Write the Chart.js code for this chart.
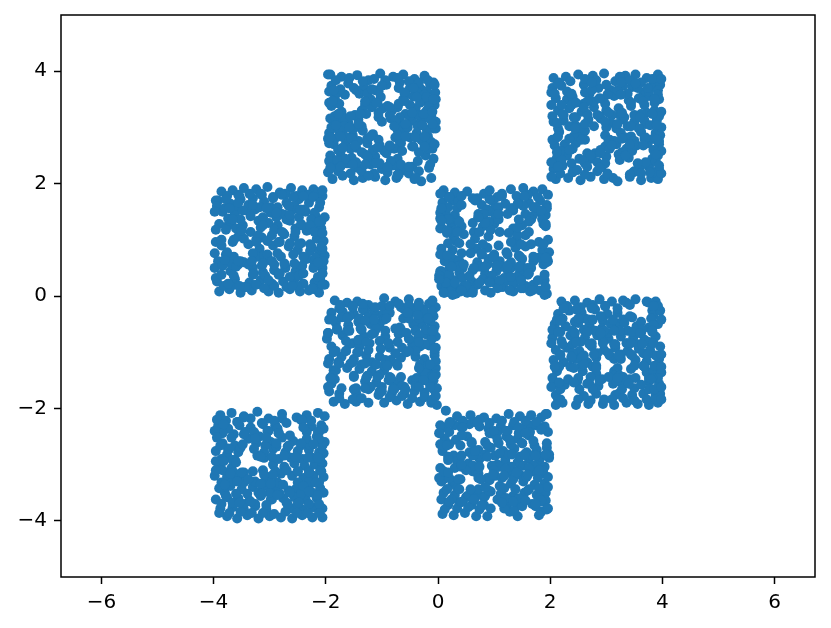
<!DOCTYPE html>
<html>
<head>
<meta charset="utf-8">
<script src="https://cdn.jsdelivr.net/npm/chart.js@4"></script>
<style>
  html, body { margin: 0; padding: 0; background: #fff; }
  canvas { display: block; }
</style>
</head>
<body>
<canvas id="checkerChart" width="831" height="628"></canvas>
<script>
// points, one pair of lists per square
const squareAX = [
  -1.92,-1.72,-1.44,-1.24,-1.03,-0.80,-0.62,-0.42,-0.24,-0.08,
  -1.90,-1.60,-1.32,-1.12,-0.92,-0.68,-0.50,-0.30,-0.14,-0.05,
  -1.84,-1.66,-1.40,-1.20,-1.02,-0.62,-0.44,-0.26,-0.10,-0.72,
  -1.90,-1.72,-1.36,-1.18,-0.98,-0.82,-0.58,-0.40,-0.20,-0.06,
  -1.78,-1.60,-1.42,-1.06,-0.84,-0.66,-0.46,-0.30,-0.12,-1.92,
  -1.94,-1.70,-1.52,-1.34,-1.16,-0.76,-0.60,-0.38,-0.18,-0.08,
  -1.86,-1.64,-1.46,-1.26,-1.04,-0.88,-0.66,-0.44,-0.26,-0.10,
  -1.92,-1.74,-1.54,-1.30,-1.12,-0.92,-0.72,-0.70,-0.22,-0.08,
  -1.84,-1.62,-1.44,-1.20,-1.00,-0.82,-0.62,-0.46,-0.34,-0.16,
  -1.88,-1.70,-1.50,-1.34,-1.12,-0.94,-0.74,-0.42,-0.30,-0.12,
  -1.82,-1.58,-1.34,-1.14,-0.94,-0.72,-0.52,-0.34,-0.18,-1.96,
  -1.78,-1.46,-1.26,-1.06,-0.58,-0.38,-0.20,-0.06,-1.94,-0.70,
  -1.94,-1.76,-1.30,-1.08,-0.90,-0.70,-0.50,-0.32,-0.16,-0.04,
  -1.84,-1.66,-1.48,-1.28,-0.86,-0.68,-0.50,-0.34,-0.16,-0.04,
  -1.90,-1.68,-1.50,-1.36,-0.72,-0.54,-0.36,-0.20,-0.04,-1.78,
  -1.84,-1.62,-1.42,-1.26,-1.06,-0.68,-0.50,-0.30,-0.12,-1.96,
  -1.78,-1.56,-1.36,-1.16,-0.96,-0.78,-0.64,-0.34,-0.16,-1.94,
  -1.94,-1.66,-1.46,-1.24,-1.04,-0.84,-0.66,-0.36,-1.80,-0.14,
  -1.96,-1.78,-1.56,-1.36,-1.14,-0.90,-0.70,-0.52,-0.40,-1.24,
  -1.74,-1.50,-1.18,-1.00,-0.44,-0.24,-0.60,-1.86,
  -1.88,-1.30,-1.10,-0.86,-0.60,-0.38,-0.20,-0.08,
  -1.78,-1.56,-1.38,-1.06,-0.76,-0.46,-0.26,-0.10,
  -1.82,-1.58,-1.42,-1.00,-0.78,-0.58,-0.28,-0.10,
  -1.92,-1.74,-1.54,-1.20,-0.72,-0.58,-0.40,-0.24,
  -1.70,-1.48,-1.08,-0.86,-0.46,-0.24,-0.06,-1.26,
  -1.74,-1.52,-1.30,-1.10,-0.90,-0.72,-0.52,-1.92
];
const squareAY = [
  3.94,3.90,3.93,3.84,3.96,3.90,3.94,3.86,3.92,3.80,
  3.74,3.78,3.72,3.66,3.76,3.80,3.70,3.68,3.76,3.62,
  3.52,3.58,3.60,3.50,3.54,3.50,3.55,3.48,3.44,3.36,
  3.38,3.28,3.30,3.36,3.34,3.30,3.24,3.34,3.30,3.40,
  3.12,3.08,3.14,3.18,3.16,3.06,3.12,3.10,3.20,3.16,
  2.90,2.92,2.86,2.94,2.88,2.82,2.92,2.90,2.84,2.98,
  2.70,2.74,2.64,2.72,2.68,2.62,2.72,2.66,2.74,2.62,
  2.50,2.56,2.46,2.52,2.48,2.54,2.44,2.30,2.50,2.44,
  2.30,2.36,2.28,2.34,2.26,2.32,2.24,2.30,2.22,2.28,
  2.08,2.14,2.06,2.10,2.12,2.06,2.10,2.08,2.04,2.10,
  3.84,3.88,3.82,3.86,3.84,3.88,3.82,3.80,3.84,3.94,
  3.62,3.66,3.60,3.64,3.58,3.62,3.64,3.76,3.64,3.70,
  3.44,3.42,3.40,3.44,3.38,3.42,3.40,3.44,3.38,3.50,
  3.20,3.16,3.22,3.24,3.22,3.18,3.20,3.22,3.16,3.10,
  3.00,3.02,2.98,3.02,2.96,3.00,3.02,2.96,2.98,2.96,
  2.80,2.82,2.76,2.80,2.78,2.74,2.82,2.78,2.74,2.80,
  2.60,2.62,2.56,2.60,2.58,2.62,2.58,2.56,2.62,2.72,
  2.40,2.44,2.38,2.42,2.36,2.40,2.34,2.40,2.42,2.34,
  2.20,2.22,2.18,2.22,2.18,2.20,2.16,2.18,2.10,2.14,
  3.68,3.70,3.68,3.74,3.70,3.58,3.62,3.66,
  3.47,3.46,3.44,3.36,3.47,3.54,3.54,3.50,
  3.24,3.20,3.24,3.26,3.12,3.26,3.24,3.28,
  3.04,3.00,3.06,3.10,3.02,3.06,3.04,3.06,
  2.82,2.84,2.80,2.84,2.86,2.84,2.82,2.84,
  2.64,2.68,2.64,2.68,2.66,2.66,2.70,2.48,
  2.30,2.34,2.34,2.36,2.30,2.16,2.30,2.28
];
const squareBX = [
  2.06,2.28,2.50,2.76,2.96,3.16,3.34,3.52,3.72,3.92,
  2.04,2.20,2.60,2.86,3.08,3.30,3.46,3.66,3.84,3.96,
  2.10,2.30,2.40,2.70,2.94,3.14,3.40,3.58,3.76,3.94,
  2.14,2.34,2.56,2.78,3.00,3.22,3.72,3.86,3.98,3.50,
  2.06,2.24,2.44,2.68,2.90,3.08,3.30,3.50,3.70,3.90,
  2.16,2.52,2.62,2.98,3.06,3.26,3.44,3.62,3.88,3.96,
  2.08,2.26,2.46,2.66,2.98,3.18,3.36,3.54,3.74,3.94,
  2.12,2.30,2.52,2.80,3.00,3.22,3.40,3.76,3.82,3.92,
  2.06,2.22,2.42,2.62,2.92,3.12,3.50,3.60,3.76,3.94,
  2.10,2.32,2.54,2.72,2.96,3.20,3.42,3.62,3.80,3.92,
  2.16,2.36,2.62,2.82,3.06,3.24,3.42,3.62,3.82,3.98,
  2.02,2.30,2.62,2.74,3.02,3.20,3.38,3.56,3.76,3.92,
  2.20,2.38,2.60,2.78,2.98,3.24,3.44,3.68,3.86,2.02,
  2.04,2.24,2.46,2.66,2.88,3.10,3.32,3.52,3.68,3.94,
  2.14,2.34,2.54,2.78,3.00,3.18,3.38,3.58,3.78,3.98,
  2.04,2.12,2.42,2.62,3.14,3.34,3.50,3.68,3.84,3.94,
  2.18,2.36,2.40,2.72,2.90,3.06,3.28,3.46,3.84,3.98,
  2.02,2.20,2.38,2.60,2.84,2.98,3.24,3.48,3.70,3.88,
  2.18,2.40,2.62,2.84,3.02,3.42,3.62,3.84,2.02,3.98,
  2.14,2.38,2.74,3.00,3.26,3.52,3.74,3.92,
  2.08,2.46,2.66,2.88,3.26,3.44,3.66,3.86,
  2.22,2.42,2.60,2.84,3.04,3.28,3.62,3.82,
  2.12,2.44,2.62,2.98,3.20,3.44,3.60,3.90,
  2.14,2.34,2.56,3.04,3.28,3.48,3.70,3.90,
  2.12,2.34,2.72,2.90,3.10,3.42,3.66,3.88,
  2.14,2.48,2.66,2.88,3.34,3.56,3.78,3.94
];
const squareBY = [
  3.88,3.90,3.94,3.92,3.96,3.82,3.92,3.94,3.88,3.94,
  3.70,3.74,3.76,3.70,3.66,3.74,3.72,3.62,3.76,3.76,
  3.52,3.50,3.54,3.60,3.50,3.56,3.48,3.52,3.56,3.50,
  3.30,3.34,3.28,3.36,3.30,3.34,3.26,3.30,3.28,3.22,
  3.10,3.12,3.04,3.14,3.16,3.08,3.14,3.10,3.06,3.12,
  2.92,2.88,2.94,2.86,2.78,2.90,2.84,2.92,2.90,2.86,
  2.68,2.70,2.72,2.54,2.66,2.70,2.62,2.68,2.72,2.70,
  2.46,2.50,2.44,2.54,2.48,2.52,2.46,2.30,2.44,2.50,
  2.26,2.32,2.24,2.36,2.30,2.10,2.22,2.28,2.32,2.26,
  2.08,2.10,2.06,2.12,2.08,2.04,2.12,2.06,2.10,2.08,
  3.80,3.82,3.86,3.84,3.66,3.90,3.84,3.80,3.86,3.86,
  3.62,3.64,3.62,3.66,3.58,3.66,3.60,3.70,3.64,3.66,
  3.40,3.40,3.42,3.46,3.42,3.22,3.38,3.40,3.44,3.40,
  3.20,3.22,3.18,3.24,3.20,3.22,3.18,3.20,3.12,3.20,
  2.98,3.02,3.00,3.02,3.00,2.98,3.02,2.98,3.04,3.00,
  2.78,2.82,2.84,2.78,2.76,2.82,2.76,2.80,2.80,2.76,
  2.58,2.60,2.62,2.44,2.60,2.62,2.56,2.58,2.60,2.58,
  2.38,2.42,2.36,2.40,2.38,2.36,2.42,2.20,2.38,2.40,
  2.18,2.20,2.16,2.22,2.18,2.16,2.18,2.20,2.12,2.18,
  3.78,3.60,3.80,3.76,3.80,3.78,3.70,3.58,
  3.60,3.44,3.46,3.52,3.58,3.44,3.46,3.50,
  3.24,3.18,3.36,3.22,3.26,3.26,3.24,3.24,
  3.08,2.98,3.06,3.10,3.06,3.02,3.18,3.04,
  2.84,2.80,2.78,2.76,2.80,2.70,2.82,2.78,
  2.56,2.60,2.50,2.54,2.68,2.70,2.68,2.52,
  2.30,2.24,2.30,2.28,2.50,2.36,2.20,2.32
];
const squareCX = [
  -3.86,-3.66,-3.46,-3.24,-3.04,-2.82,-2.62,-2.42,-2.22,-2.06,
  -3.92,-3.70,-3.52,-3.30,-3.10,-2.72,-2.70,-2.48,-2.30,-2.12,
  -3.84,-3.62,-3.42,-3.26,-2.98,-2.78,-2.58,-2.36,-2.18,-2.02,
  -3.90,-3.68,-3.48,-3.20,-3.02,-2.86,-2.64,-2.44,-2.24,-2.08,
  -3.96,-3.74,-3.56,-3.34,-3.14,-2.74,-2.56,-2.22,-2.16,-2.04,
  -3.86,-3.64,-3.38,-3.18,-2.94,-2.66,-2.50,-2.28,-2.12,-2.02,
  -3.92,-3.66,-3.46,-3.22,-3.02,-2.80,-2.50,-2.34,-2.20,-2.06,
  -3.98,-3.70,-3.68,-3.30,-3.12,-2.92,-2.72,-2.54,-2.20,-2.10,
  -3.94,-3.62,-3.36,-3.16,-2.96,-2.76,-2.56,-2.40,-2.14,-2.20,
  -3.90,-3.72,-3.52,-3.32,-3.02,-2.84,-2.64,-2.46,-2.30,-2.12,
  -3.76,-3.56,-3.36,-3.14,-2.94,-2.72,-2.52,-2.32,-2.14,-3.96,
  -3.94,-3.80,-3.58,-3.38,-3.18,-2.98,-2.78,-2.56,-2.38,-2.20,
  -3.74,-3.52,-3.34,-3.12,-2.88,-2.70,-2.48,-2.26,-2.08,-3.98,
  -3.78,-3.60,-3.16,-2.92,-2.76,-2.54,-2.34,-2.14,-3.96,-3.48,
  -3.86,-3.66,-3.46,-3.24,-3.04,-2.84,-2.64,-2.44,-2.26,-2.06,
  -3.78,-3.56,-3.30,-3.10,-2.86,-2.58,-2.40,-2.18,-2.04,-3.98,
  -3.84,-3.60,-3.38,-3.14,-2.92,-2.72,-2.42,-2.22,-2.06,-3.96,
  -3.86,-3.64,-3.28,-3.08,-2.84,-2.64,-2.48,-2.14,-2.02,-3.42,
  -3.82,-3.62,-3.44,-3.24,-3.10,-2.92,-2.70,-2.52,-2.24,-2.06,
  -3.78,-3.54,-3.16,-2.94,-2.58,-2.40,-2.22,-2.06,
  -3.72,-3.56,-3.30,-3.06,-2.86,-2.66,-2.46,-2.10,
  -3.66,-3.50,-3.12,-2.88,-2.64,-2.44,-2.12,-2.28,
  -3.64,-3.50,-3.20,-2.96,-2.78,-2.54,-2.20,-2.06,
  -3.76,-3.52,-3.24,-3.04,-2.82,-2.48,-2.28,-2.08,
  -3.80,-3.56,-3.32,-3.12,-2.96,-2.74,-2.56,-2.14,
  -3.74,-3.54,-3.30,-3.02,-2.82,-2.60,-2.40,-2.06
];
const squareCY = [
  1.86,1.88,1.92,1.90,1.94,1.84,1.92,1.88,1.90,1.78,
  1.70,1.64,1.72,1.74,1.68,1.44,1.66,1.72,1.66,1.58,
  1.50,1.46,1.52,1.54,1.48,1.46,1.54,1.50,1.42,1.40,
  1.28,1.32,1.26,1.34,1.30,1.26,1.34,1.28,1.22,1.20,
  0.96,1.26,1.06,1.14,1.04,1.10,1.06,1.30,1.02,0.98,
  0.90,0.70,0.92,0.84,0.90,0.88,0.82,0.80,0.80,0.72,
  0.62,0.68,0.60,0.70,0.64,0.70,0.50,0.66,0.60,0.50,
  0.50,0.44,0.56,0.50,0.42,0.46,0.50,0.44,0.24,0.30,
  0.26,0.30,0.24,0.28,0.22,0.26,0.30,0.22,0.28,0.12,
  0.08,0.12,0.06,0.10,0.08,0.06,0.12,0.08,0.10,0.06,
  1.78,1.80,1.82,1.80,1.76,1.82,1.78,1.80,1.84,1.70,
  1.60,1.56,1.60,1.62,1.58,1.58,1.80,1.60,1.54,1.48,
  1.38,1.36,1.42,1.40,1.40,1.36,1.40,1.36,1.32,1.50,
  1.18,1.20,1.22,1.18,1.12,1.20,1.16,1.10,1.18,1.52,
  1.00,0.96,1.02,1.00,0.98,0.96,0.94,0.94,0.88,0.84,
  0.74,0.56,0.76,0.72,0.76,0.74,0.70,0.68,0.62,0.76,
  0.54,0.52,0.56,0.54,0.56,0.52,0.54,0.50,0.40,0.32,
  0.38,0.36,0.40,0.36,0.38,0.34,0.36,0.34,0.20,0.16,
  0.18,0.20,0.16,0.20,0.14,0.18,0.16,0.18,0.14,0.20,
  1.72,1.78,1.82,1.74,1.76,1.78,1.76,1.88,
  1.56,1.66,1.62,1.56,1.58,1.60,1.54,1.66,
  1.36,1.22,1.26,1.48,1.44,1.26,1.32,1.26,
  1.00,1.16,1.08,1.08,1.14,1.14,1.14,1.12,
  0.78,0.62,0.96,0.74,0.96,0.92,0.92,0.88,
  0.64,0.62,0.62,0.58,0.62,0.58,0.58,0.60,
  0.22,0.18,0.38,0.28,0.40,0.18,0.40,0.40
];
const squareDX = [
  0.10,0.30,0.52,0.82,1.06,1.30,1.52,1.70,1.86,0.70,
  0.08,0.26,0.36,0.78,0.98,1.20,1.44,1.62,1.82,1.94,
  0.14,0.30,0.72,0.92,1.00,1.34,1.56,1.78,1.92,0.62,
  0.06,0.24,0.42,0.80,1.00,1.34,1.50,1.86,1.88,0.64,
  0.30,0.28,0.46,0.66,0.90,1.40,1.56,1.80,1.96,1.08,
  0.06,0.26,0.32,0.68,0.88,1.00,1.38,1.86,1.98,1.56,
  0.12,0.30,0.70,0.90,1.10,1.30,1.50,1.70,1.88,0.44,
  0.06,0.20,0.38,0.62,0.84,1.04,1.24,1.46,1.60,1.90,
  0.08,0.18,0.30,0.44,0.60,0.80,1.00,1.20,1.44,1.70,
  0.06,0.14,0.24,0.34,0.46,0.56,0.70,1.16,1.52,1.82,
  0.12,0.22,0.32,0.40,0.52,0.62,0.94,1.34,1.64,1.94,
  0.18,0.42,0.62,0.92,1.14,1.40,1.60,1.78,1.96,0.04,
  0.18,0.34,0.66,0.88,1.08,1.30,1.52,1.70,1.94,0.04,
  0.04,0.22,0.36,0.76,1.02,1.24,1.44,1.68,1.86,0.82,
  0.16,0.34,0.74,0.94,1.26,1.42,1.62,1.92,0.04,1.10,
  0.04,0.22,0.38,0.58,0.78,1.00,1.24,1.44,1.80,1.94,
  0.20,0.38,0.70,0.88,1.14,1.30,1.48,1.66,1.96,0.04,
  0.02,0.20,0.34,0.56,0.76,0.96,1.18,1.40,1.60,1.94,
  0.14,0.30,0.50,0.72,0.92,1.12,1.34,1.56,1.86,0.02,
  0.10,0.26,0.42,0.62,0.84,1.06,1.28,1.48,1.68,1.90,
  0.20,0.42,0.92,1.14,1.34,1.54,1.74,0.06,
  0.18,0.72,0.90,1.08,1.42,1.66,1.84,0.06,
  0.16,0.38,0.84,1.08,1.42,1.62,1.92,0.72,
  0.18,0.38,0.58,0.80,1.30,1.48,1.66,1.92,
  0.16,0.42,0.78,0.98,1.22,1.46,1.70,1.88,
  0.24,0.46,0.64,0.84,1.04,1.24,1.44,1.90,
  0.74,0.92,1.10,1.30,1.48,1.62,1.78,1.92
];
const squareDY = [
  1.88,1.84,1.86,1.82,1.76,1.90,1.92,1.86,1.90,1.74,
  1.66,1.70,1.68,1.62,1.68,1.64,1.72,1.66,1.70,1.62,
  1.48,1.44,1.46,1.50,1.54,1.52,1.46,1.50,1.44,1.30,
  1.22,1.26,1.24,1.24,1.28,1.20,1.26,1.38,1.28,1.14,
  1.16,1.06,1.10,1.02,1.06,1.02,1.08,0.96,1.00,0.90,
  0.84,0.82,0.98,0.84,0.86,0.72,0.86,0.82,0.78,0.88,
  0.62,0.64,0.60,0.66,0.62,0.60,0.66,0.62,0.56,0.50,
  0.44,0.48,0.42,0.46,0.40,0.44,0.46,0.42,0.38,0.28,
  0.30,0.34,0.28,0.32,0.26,0.30,0.24,0.26,0.30,0.20,
  0.18,0.14,0.20,0.12,0.18,0.14,0.20,0.16,0.14,0.10,
  0.06,0.08,0.04,0.08,0.06,0.10,0.06,0.08,0.08,0.04,
  1.76,1.78,1.74,1.72,1.82,1.78,1.80,1.76,1.80,1.82,
  1.58,1.56,1.70,1.54,1.58,1.56,1.60,1.58,1.56,1.48,
  1.38,1.36,1.34,1.40,1.38,1.46,1.36,1.42,1.36,1.46,
  1.12,1.14,1.14,1.18,1.12,1.08,1.14,1.24,1.20,1.14,
  0.74,0.72,0.62,0.76,0.74,0.74,0.74,0.72,0.68,0.68,
  0.58,0.54,0.52,0.56,0.52,0.50,0.54,0.50,0.62,0.44,
  0.36,0.38,0.52,0.36,0.52,0.36,0.32,0.34,0.50,0.60,
  0.24,0.24,0.18,0.22,0.26,0.16,0.22,0.18,0.28,0.30,
  0.06,0.02,0.10,0.06,0.10,0.14,0.10,0.14,0.10,0.02,
  1.76,1.62,1.88,1.78,1.56,1.78,1.58,1.56,
  1.36,1.40,1.32,1.36,1.64,1.36,1.52,1.34,
  1.16,1.32,1.30,1.46,1.22,1.32,1.28,1.40,
  0.94,0.94,0.92,0.92,0.96,0.92,0.92,0.68,
  0.72,0.76,0.76,0.68,0.78,0.70,0.70,0.92,
  0.52,0.56,0.50,0.52,0.54,0.54,0.52,0.38,
  0.24,0.24,0.28,0.34,0.28,0.40,0.28,0.16
];
const squareEX = [
  -1.84,-1.62,-1.44,-1.24,-0.96,-0.76,-0.52,-0.34,-0.16,-0.04,
  -1.90,-1.70,-1.50,-1.30,-1.00,-0.86,-0.60,-0.42,-0.24,-0.08,
  -1.82,-1.60,-1.42,-1.20,-1.04,-0.90,-0.62,-0.30,-0.14,-0.06,
  -1.96,-1.70,-1.52,-1.32,-1.14,-0.94,-0.70,-0.44,-0.22,-0.10,
  -1.90,-1.58,-1.40,-1.22,-0.86,-0.64,-0.46,-0.32,-0.16,-0.04,
  -1.94,-1.72,-1.50,-1.28,-1.04,-0.84,-0.66,-0.40,-0.24,-0.06,
  -1.86,-1.62,-1.40,-1.18,-0.96,-0.80,-0.38,-0.30,-0.14,-0.04,
  -1.90,-1.82,-1.30,-1.10,-0.88,-0.70,-0.46,-0.28,-0.18,-0.08,
  -1.94,-1.76,-1.46,-1.24,-1.04,-0.82,-0.60,-0.42,-0.24,-0.06,
  -1.86,-1.66,-1.46,-1.24,-0.96,-0.74,-0.54,-0.32,-0.12,-0.02,
  -1.76,-1.52,-1.34,-1.14,-1.00,-0.86,-0.66,-0.44,-0.26,-0.10,
  -1.94,-1.72,-1.58,-1.40,-1.24,-0.96,-0.68,-0.52,-0.34,-0.18,
  -1.80,-1.62,-1.36,-1.10,-0.94,-0.66,-0.40,-0.22,-0.08,-0.04,
  -1.98,-1.64,-1.42,-1.28,-1.04,-0.88,-0.52,-0.36,-0.12,-1.96,
  -1.82,-1.64,-1.44,-1.02,-0.94,-0.76,-0.56,-0.40,-0.06,-0.24,
  -1.96,-1.78,-1.56,-1.36,-1.18,-0.96,-0.74,-0.32,-0.18,-0.04,
  -1.88,-1.50,-1.26,-1.04,-0.86,-0.66,-0.22,-0.10,-0.04,-0.38,
  -1.96,-1.84,-1.46,-1.20,-1.00,-0.80,-0.60,-0.40,-0.12,-0.02,
  -1.76,-1.52,-1.36,-1.06,-0.86,-0.64,-0.46,-0.24,-0.10,-0.04,
  -1.74,-1.52,-1.34,-1.12,-0.70,-0.52,-0.34,-0.10,
  -1.88,-1.62,-1.30,-1.14,-0.92,-0.54,-0.36,-0.18,
  -1.80,-1.58,-1.38,-1.18,-0.76,-0.56,-0.34,-0.10,
  -1.86,-1.64,-1.42,-1.24,-0.72,-0.52,-0.34,-0.06,
  -1.76,-1.52,-1.30,-1.10,-0.90,-0.72,-0.34,-0.14,
  -1.92,-1.50,-1.28,-1.08,-0.84,-0.64,-0.26,-0.08,
  -1.72,-1.50,-1.30,-1.00,-0.78,-0.58,-0.34,-0.14
];
const squareEY = [
  -0.08,-0.12,-0.10,-0.16,-0.04,-0.10,-0.06,-0.12,-0.14,-0.20,
  -0.30,-0.28,-0.32,-0.26,-0.34,-0.30,-0.24,-0.28,-0.30,-0.36,
  -0.48,-0.52,-0.46,-0.50,-0.50,-0.30,-0.40,-0.50,-0.46,-0.54,
  -0.66,-0.70,-0.84,-0.72,-0.66,-0.72,-0.68,-0.50,-0.68,-0.70,
  -0.90,-0.86,-0.90,-0.84,-0.92,-0.92,-0.86,-0.90,-0.88,-0.92,
  -1.12,-1.08,-1.12,-1.06,-1.08,-1.14,-1.10,-1.08,-1.12,-1.06,
  -1.32,-1.28,-1.30,-1.34,-1.32,-1.52,-1.46,-1.32,-1.30,-1.28,
  -1.56,-1.32,-1.52,-1.54,-1.50,-1.54,-1.50,-1.46,-1.52,-1.50,
  -1.70,-1.74,-1.72,-1.66,-1.70,-1.72,-1.74,-1.70,-1.72,-1.68,
  -1.88,-1.92,-1.88,-1.90,-1.90,-1.86,-1.92,-1.88,-1.90,-1.94,
  -0.22,-0.20,-0.24,-0.28,-0.18,-0.18,-0.20,-0.22,-0.24,-0.28,
  -0.42,-0.38,-0.36,-0.40,-0.38,-0.42,-0.56,-0.40,-0.40,-0.42,
  -0.58,-0.62,-0.60,-0.58,-0.62,-0.60,-0.62,-0.60,-0.62,-0.72,
  -0.76,-0.80,-0.78,-0.82,-0.80,-0.84,-0.76,-0.76,-0.78,-0.66,
  -0.98,-0.98,-1.00,-0.94,-1.14,-1.02,-1.00,-0.98,-1.00,-0.86,
  -1.20,-1.18,-1.20,-1.22,-1.18,-1.24,-1.20,-1.22,-1.24,-1.16,
  -1.42,-1.42,-1.42,-1.40,-1.44,-1.44,-1.38,-1.42,-1.40,-1.50,
  -1.62,-1.48,-1.64,-1.62,-1.62,-1.64,-1.62,-1.60,-1.62,-1.64,
  -1.82,-1.84,-1.82,-1.76,-1.80,-1.78,-1.82,-1.80,-1.84,-1.78,
  -0.16,-0.18,-0.14,-0.20,-0.14,-0.16,-0.18,-0.08,
  -0.42,-0.40,-0.44,-0.42,-0.40,-0.30,-0.34,-0.40,
  -0.60,-0.62,-0.58,-0.68,-0.58,-0.66,-0.70,-0.62,
  -1.00,-0.98,-1.00,-0.96,-0.82,-0.98,-0.82,-0.94,
  -1.20,-1.18,-1.20,-1.22,-1.24,-1.24,-1.28,-1.22,
  -1.46,-1.44,-1.46,-1.44,-1.46,-1.60,-1.50,-1.44,
  -1.64,-1.66,-1.64,-1.70,-1.66,-1.66,-1.62,-1.62
];
const squareFX = [
  2.20,2.44,2.66,2.88,3.10,3.30,3.52,3.72,3.88,3.82,
  2.14,2.34,2.56,2.80,3.02,3.20,3.36,3.84,3.96,2.94,
  2.08,2.28,2.50,2.70,2.92,3.22,3.54,3.76,3.92,3.38,
  2.04,2.36,2.44,2.62,2.84,3.04,3.26,3.48,3.68,3.88,
  2.10,2.30,2.52,2.74,2.96,3.16,3.38,3.58,3.78,3.96,
  2.06,2.24,2.46,2.66,2.82,3.14,3.26,3.52,3.72,3.94,
  2.12,2.36,2.58,2.82,3.14,3.44,3.72,3.84,3.98,3.24,
  2.06,2.26,2.48,2.70,2.86,3.12,3.34,3.76,3.94,3.42,
  2.10,2.18,2.60,2.82,3.16,3.24,3.46,3.66,3.88,3.96,
  2.22,2.46,2.68,2.94,3.14,3.36,3.56,3.76,3.92,2.10,
  2.30,2.54,2.76,2.98,3.20,3.42,3.76,3.92,2.14,2.62,
  2.22,2.44,2.68,2.90,3.30,3.46,3.80,3.98,2.12,3.08,
  2.04,2.18,2.40,2.60,2.80,3.02,3.24,3.46,3.62,3.82,
  2.02,2.20,2.40,2.54,2.74,2.94,3.14,3.36,3.56,3.76,
  2.18,2.40,2.60,2.84,3.06,3.26,3.46,3.66,3.88,3.98,
  2.16,2.38,2.56,2.76,2.82,3.20,3.50,3.68,3.86,3.98,
  2.32,2.50,2.72,2.92,3.30,3.52,3.76,3.92,2.04,3.14,
  2.02,2.18,2.52,2.76,3.18,3.28,3.50,3.76,3.86,3.98,
  2.14,2.50,2.72,2.96,3.10,3.30,3.50,3.72,3.88,3.98,
  2.24,2.46,2.74,2.98,3.42,3.62,3.84,2.12,
  2.18,2.50,2.76,3.12,3.32,3.64,3.84,2.96,
  2.14,2.44,2.66,2.90,3.14,3.38,3.60,3.82,
  2.22,2.46,2.70,2.94,3.16,3.44,3.64,3.84,
  2.18,2.38,2.58,2.78,3.04,3.22,3.44,3.74,
  2.08,2.42,2.60,2.82,3.04,3.24,3.82,3.66,
  2.16,2.42,2.66,2.88,3.20,3.40,3.62,3.80
];
const squareFY = [
  -0.10,-0.08,-0.12,-0.06,-0.10,-0.08,-0.06,-0.10,-0.10,-0.26,
  -0.32,-0.26,-0.30,-0.24,-0.32,-0.30,-0.12,-0.34,-0.26,-0.44,
  -0.50,-0.54,-0.48,-0.52,-0.58,-0.50,-0.54,-0.56,-0.50,-0.62,
  -0.74,-0.70,-0.76,-0.74,-0.70,-0.76,-0.72,-0.74,-0.78,-0.72,
  -0.96,-0.92,-0.98,-0.90,-0.96,-0.92,-0.98,-0.94,-0.96,-0.90,
  -1.14,-1.18,-1.12,-1.18,-1.10,-1.12,-1.12,-1.14,-1.16,-1.12,
  -1.34,-1.26,-1.34,-1.38,-1.34,-1.30,-1.36,-1.32,-1.36,-1.52,
  -1.56,-1.58,-1.52,-1.56,-1.60,-1.56,-1.54,-1.52,-1.56,-1.48,
  -1.76,-1.84,-1.78,-1.74,-1.76,-1.72,-1.76,-1.74,-1.76,-1.74,
  -1.90,-1.94,-1.92,-1.92,-1.94,-1.90,-1.92,-1.94,-1.90,-1.94,
  -0.18,-0.20,-0.16,-0.18,-0.22,-0.16,-0.12,-0.18,-0.42,-0.40,
  -0.40,-0.46,-0.42,-0.36,-0.42,-0.38,-0.40,-0.42,-0.62,-0.50,
  -0.60,-0.64,-0.62,-0.60,-0.62,-0.66,-0.62,-0.64,-0.66,-0.64,
  -0.84,-0.80,-0.86,-0.82,-0.84,-0.80,-0.86,-0.84,-0.86,-0.82,
  -1.04,-1.02,-1.06,-1.02,-1.06,-1.04,-1.06,-1.02,-1.06,-1.04,
  -1.26,-1.10,-1.24,-1.26,-1.24,-1.28,-1.24,-1.26,-1.24,-1.26,
  -1.48,-1.46,-1.44,-1.48,-1.44,-1.46,-1.46,-1.46,-1.46,-1.42,
  -1.62,-1.66,-1.66,-1.66,-1.52,-1.66,-1.64,-1.66,-1.66,-1.62,
  -1.84,-1.84,-1.86,-1.84,-1.84,-1.82,-1.86,-1.84,-1.84,-1.84,
  -0.22,-0.24,-0.22,-0.18,-0.36,-0.46,-0.18,-0.42,
  -0.44,-0.40,-0.42,-0.42,-0.48,-0.60,-0.52,-0.62,
  -0.64,-0.66,-0.64,-0.66,-0.62,-0.84,-0.66,-0.62,
  -0.86,-0.82,-0.86,-0.84,-0.86,-0.84,-0.86,-0.84,
  -1.06,-1.08,-1.08,-1.04,-1.02,-1.06,-1.04,-1.04,
  -1.26,-1.28,-1.22,-1.28,-1.44,-1.42,-1.46,-1.24,
  -1.54,-1.54,-1.56,-1.50,-1.46,-1.56,-1.58,-1.48
];
const squareGX = [
  -3.88,-3.68,-3.46,-3.22,-3.02,-2.78,-2.52,-2.34,-2.14,-2.02,
  -3.92,-3.74,-3.54,-3.34,-3.12,-2.90,-2.78,-2.26,-2.08,-2.44,
  -3.84,-3.62,-3.38,-3.18,-2.98,-2.78,-2.58,-2.34,-2.12,-2.02,
  -3.96,-3.76,-3.56,-3.24,-2.94,-2.72,-2.50,-2.30,-2.12,-2.04,
  -3.90,-3.68,-3.62,-2.94,-2.74,-2.56,-2.38,-2.20,-2.06,-3.22,
  -3.98,-3.76,-3.56,-3.50,-3.00,-2.80,-2.60,-2.40,-2.22,-2.04,
  -3.90,-3.70,-3.50,-3.30,-3.10,-2.90,-2.54,-2.50,-2.30,-2.10,
  -3.96,-3.76,-3.56,-3.36,-3.16,-2.96,-2.76,-2.56,-2.36,-2.16,
  -3.88,-3.66,-3.46,-3.26,-3.06,-2.98,-2.62,-2.42,-2.22,-2.06,
  -3.76,-3.58,-3.40,-3.20,-3.00,-2.80,-2.60,-2.42,-2.24,-2.06,
  -3.94,-3.78,-3.58,-3.34,-3.14,-2.92,-2.70,-2.44,-2.26,-2.08,
  -3.84,-3.64,-3.44,-3.26,-3.04,-2.84,-2.42,-2.16,-2.04,-3.98,
  -3.74,-3.52,-3.28,-3.08,-2.88,-2.68,-2.44,-2.30,-2.06,-3.94,
  -3.86,-3.66,-3.10,-2.84,-2.62,-2.42,-2.24,-2.10,-3.96,-3.74,
  -3.84,-3.64,-3.46,-3.12,-2.90,-2.70,-2.50,-2.30,-2.10,-3.96,
  -3.86,-3.66,-3.46,-3.26,-3.06,-2.86,-2.66,-2.50,-2.30,-2.12,
  -3.80,-3.60,-3.40,-3.20,-3.00,-2.82,-2.64,-2.44,-2.24,-2.04,
  -3.86,-3.66,-3.46,-3.26,-3.06,-2.86,-2.70,-2.50,-2.30,-2.12,
  -3.90,-3.72,-3.52,-3.32,-3.12,-2.92,-2.72,-2.52,-2.32,-2.12,
  -3.82,-3.56,-3.28,-3.02,-2.86,-2.40,-2.14,-3.46,
  -3.68,-3.46,-3.26,-3.06,-2.84,-2.64,-2.34,-2.12,
  -3.88,-3.72,-3.48,-3.10,-2.88,-2.66,-2.44,-2.22,
  -3.82,-3.60,-3.16,-2.96,-2.74,-2.54,-2.32,-2.14,
  -3.70,-3.50,-3.30,-3.10,-2.94,-2.50,-2.30,-2.08,
  -3.80,-3.58,-3.38,-3.16,-2.98,-2.76,-2.40,-2.18,
  -3.78,-3.54,-3.34,-3.14,-2.68,-2.48,-2.30,-2.14
];
const squareGY = [
  -2.12,-2.08,-2.14,-2.06,-2.18,-2.10,-2.16,-2.12,-2.08,-2.14,
  -2.32,-2.36,-2.30,-2.34,-2.28,-2.30,-2.18,-2.32,-2.34,-2.20,
  -2.62,-2.66,-2.54,-2.50,-2.60,-2.52,-2.58,-2.42,-2.42,-2.60,
  -2.76,-2.82,-2.78,-2.62,-2.72,-2.78,-2.76,-2.74,-2.78,-2.80,
  -3.00,-3.06,-2.92,-3.00,-3.04,-2.98,-3.02,-3.00,-2.98,-2.84,
  -3.20,-3.22,-3.24,-3.26,-3.22,-3.16,-3.20,-3.24,-3.20,-3.22,
  -3.42,-3.38,-3.44,-3.40,-3.38,-3.44,-3.44,-3.42,-3.38,-3.42,
  -3.62,-3.58,-3.60,-3.64,-3.56,-3.62,-3.60,-3.58,-3.62,-3.60,
  -3.78,-3.76,-3.80,-3.74,-3.80,-3.62,-3.78,-3.80,-3.76,-3.78,
  -3.92,-3.96,-3.90,-3.96,-3.92,-3.94,-3.96,-3.90,-3.94,-3.94,
  -2.20,-2.22,-2.24,-2.18,-2.26,-2.22,-2.26,-2.20,-2.22,-2.30,
  -2.44,-2.46,-2.42,-2.46,-2.40,-2.44,-2.22,-2.50,-2.36,-2.40,
  -2.72,-2.70,-2.72,-2.66,-2.68,-2.68,-2.66,-2.64,-2.66,-2.52,
  -2.90,-2.92,-2.88,-2.90,-2.88,-2.90,-2.88,-2.90,-2.94,-2.72,
  -3.10,-3.14,-3.14,-3.10,-3.12,-3.10,-3.12,-3.10,-3.10,-3.10,
  -3.32,-3.30,-3.32,-3.30,-3.30,-3.32,-3.46,-3.32,-3.30,-3.32,
  -3.50,-3.52,-3.52,-3.50,-3.50,-3.52,-3.50,-3.52,-3.50,-3.50,
  -3.70,-3.68,-3.70,-3.70,-3.72,-3.54,-3.68,-3.70,-3.70,-3.70,
  -3.86,-3.86,-3.84,-3.86,-3.86,-3.88,-3.84,-3.86,-3.86,-3.86,
  -2.28,-2.24,-2.42,-2.40,-2.36,-2.34,-2.42,-2.16,
  -2.52,-2.46,-2.54,-2.52,-2.44,-2.48,-2.54,-2.54,
  -2.66,-2.72,-2.64,-2.78,-2.62,-2.66,-2.62,-2.64,
  -2.94,-2.96,-2.86,-2.86,-2.84,-2.86,-2.88,-2.88,
  -3.16,-3.14,-3.12,-3.18,-3.18,-3.12,-3.14,-3.12,
  -3.36,-3.30,-3.26,-3.34,-3.34,-3.36,-3.38,-3.32,
  -3.56,-3.68,-3.66,-3.52,-3.70,-3.68,-3.48,-3.54
];
const squareHX = [
  0.34,0.58,0.82,1.04,1.26,1.46,1.66,1.84,1.94,0.14,
  0.10,0.30,0.56,0.90,1.12,1.34,1.54,1.74,1.90,0.74,
  0.12,0.32,0.52,0.60,1.00,1.22,1.42,1.62,1.66,0.92,
  0.08,0.28,0.56,0.72,0.94,1.16,1.36,1.58,1.76,1.94,
  0.34,0.54,0.74,0.62,1.20,1.42,1.62,1.80,1.98,1.06,
  0.10,0.40,0.68,0.72,1.02,1.24,1.46,1.68,1.88,0.30,
  0.06,0.26,0.30,0.64,1.10,1.30,1.52,1.72,1.90,0.88,
  0.10,0.30,0.50,0.72,0.94,1.12,1.34,1.54,1.76,1.92,
  0.18,0.38,0.60,0.82,0.84,1.26,1.46,1.68,1.86,1.12,
  0.08,0.28,0.48,0.68,0.88,1.28,1.42,1.84,1.80,1.94,
  0.22,0.44,0.66,0.92,1.14,1.36,1.56,1.76,0.04,1.92,
  0.02,0.20,0.42,0.94,1.06,1.24,1.44,1.64,1.96,0.74,
  0.18,0.40,0.60,0.84,1.08,1.30,1.50,1.72,1.94,0.04,
  0.18,0.42,0.62,1.02,1.26,1.46,1.68,1.84,1.98,0.84,
  0.42,0.62,0.96,1.10,1.30,1.52,1.70,1.90,0.04,0.18,
  0.02,0.20,0.36,0.72,0.92,1.14,1.34,1.58,1.78,1.96,
  0.16,0.34,0.72,0.90,1.18,1.38,1.60,1.80,1.96,0.52,
  0.06,0.24,0.44,0.64,1.06,1.22,1.42,1.80,1.92,0.82,
  0.12,0.34,0.54,0.74,0.94,1.18,1.36,1.50,1.74,1.96,
  0.20,0.44,1.00,1.22,1.44,1.62,1.84,0.70,
  0.20,0.42,1.06,1.28,1.50,1.70,1.56,0.88,
  0.16,0.66,0.88,1.10,1.32,1.54,1.74,1.92,
  0.50,0.74,1.00,1.20,1.42,1.62,1.86,0.10,
  0.18,0.76,0.98,1.18,1.40,1.60,1.80,0.42,
  0.16,0.38,0.58,0.84,1.20,1.44,1.62,1.84,
  0.20,0.42,0.64,0.78,1.14,1.34,1.56,1.74
];
const squareHY = [
  -2.14,-2.12,-2.16,-2.18,-2.10,-2.14,-2.12,-2.16,-2.10,-2.04,
  -2.34,-2.30,-2.28,-2.36,-2.32,-2.30,-2.34,-2.30,-2.32,-2.20,
  -2.54,-2.56,-2.50,-2.60,-2.46,-2.50,-2.54,-2.48,-2.30,-2.44,
  -2.76,-2.84,-2.78,-2.74,-2.70,-2.76,-2.72,-2.78,-2.74,-2.70,
  -2.94,-2.98,-2.90,-3.12,-2.92,-2.96,-2.90,-2.94,-2.88,-3.00,
  -3.26,-3.26,-3.14,-3.16,-3.20,-3.14,-3.18,-3.12,-3.16,-3.06,
  -3.30,-3.34,-3.30,-3.56,-3.38,-3.34,-3.30,-3.36,-3.34,-3.24,
  -3.50,-3.54,-3.58,-3.54,-3.48,-3.52,-3.56,-3.50,-3.54,-3.50,
  -3.72,-3.68,-3.72,-3.58,-3.56,-3.68,-3.72,-3.70,-3.66,-3.54,
  -3.88,-3.90,-3.86,-3.92,-3.92,-3.84,-3.92,-3.84,-3.90,-3.80,
  -2.24,-2.22,-2.24,-2.26,-2.22,-2.24,-2.22,-2.24,-2.30,-2.10,
  -2.44,-2.42,-2.34,-2.44,-2.42,-2.40,-2.44,-2.42,-2.42,-2.32,
  -2.64,-2.66,-2.62,-2.60,-2.62,-2.64,-2.62,-2.66,-2.62,-2.64,
  -2.86,-2.84,-2.84,-2.84,-2.82,-2.86,-2.84,-2.86,-2.82,-2.82,
  -3.04,-3.02,-3.02,-3.04,-3.04,-3.02,-3.02,-3.04,-3.06,-2.92,
  -3.24,-3.24,-3.26,-3.24,-3.28,-3.24,-3.26,-3.22,-3.24,-3.22,
  -3.44,-3.42,-3.44,-3.46,-3.42,-3.44,-3.46,-3.42,-3.40,-3.56,
  -3.62,-3.62,-3.66,-3.64,-3.62,-3.60,-3.62,-3.60,-3.64,-3.72,
  -3.80,-3.78,-3.76,-3.80,-3.78,-3.78,-3.82,-3.74,-3.74,-3.78,
  -2.26,-2.34,-2.40,-2.40,-2.34,-2.42,-2.38,-2.26,
  -2.64,-2.48,-2.56,-2.56,-2.62,-2.58,-2.44,-2.66,
  -2.66,-2.76,-2.86,-2.80,-2.82,-2.82,-2.84,-2.82,
  -3.10,-3.04,-3.10,-3.08,-3.12,-3.06,-3.10,-3.12,
  -3.14,-3.26,-3.18,-3.20,-3.14,-3.18,-3.10,-3.00,
  -3.44,-3.44,-3.44,-3.40,-3.60,-3.60,-3.44,-3.64,
  -3.66,-3.66,-3.62,-3.72,-3.68,-3.66,-3.64,-3.70
];

const xTickValues = [-6, -4, -2, 0, 2, 4, 6];
const yTickValues = [-4, -2, 0, 2, 4];

const allX = [squareAX, squareBX, squareCX, squareDX, squareEX, squareFX, squareGX, squareHX].flat();
const allY = [squareAY, squareBY, squareCY, squareDY, squareEY, squareFY, squareGY, squareHY].flat();
const points = allX.map((x, i) => ({ x: x, y: allY[i] }));

const formatTick = (value) => String(value).replace("-", "\u2212");

const frame = {
  id: "frame",
  afterDraw(chart) {
    const { ctx, chartArea: a } = chart;
    ctx.save();
    ctx.strokeStyle = "#000";
    ctx.lineWidth = 1.5;
    ctx.strokeRect(a.left, a.top, a.right - a.left, a.bottom - a.top);
    ctx.restore();
  },
};

const axisCommon = {
  grid: { display: true, drawOnChartArea: false, drawTicks: true, tickLength: 7, tickWidth: 1.5, tickColor: "#000" },
  border: { display: false },
};

const tickFont = { family: "DejaVu Sans", size: 20 };

new Chart(document.getElementById("checkerChart"), {
  type: "scatter",
  data: {
    datasets: [
      {
        data: points,
        backgroundColor: "#1f77b4",
        borderWidth: 0,
        pointRadius: 5,
      },
    ],
  },
  plugins: [frame],
  options: {
    responsive: false,
    animation: false,
    layout: { padding: { top: 15, right: 16, bottom: 0, left: 0 } },
    plugins: { legend: { display: false }, tooltip: { enabled: false } },
    scales: {
      x: {
        ...axisCommon,
        min: -6.72,
        max: 6.72,
        afterBuildTicks: (axis) => { axis.ticks = xTickValues.map((v) => ({ value: v })); },
        afterFit: (axis) => { axis.height = 51; axis.paddingLeft = 0; axis.paddingRight = 0; },
        ticks: { color: "#000", font: tickFont, padding: 7, maxRotation: 0, autoSkip: false, callback: formatTick },
      },
      y: {
        ...axisCommon,
        min: -5,
        max: 5,
        afterBuildTicks: (axis) => { axis.ticks = yTickValues.map((v) => ({ value: v })); },
        afterFit: (axis) => { axis.width = 61; axis.paddingTop = 0; axis.paddingBottom = 0; },
        ticks: { color: "#000", font: tickFont, padding: 7, autoSkip: false, callback: formatTick },
      },
    },
  },
});
</script>
</body>
</html>
